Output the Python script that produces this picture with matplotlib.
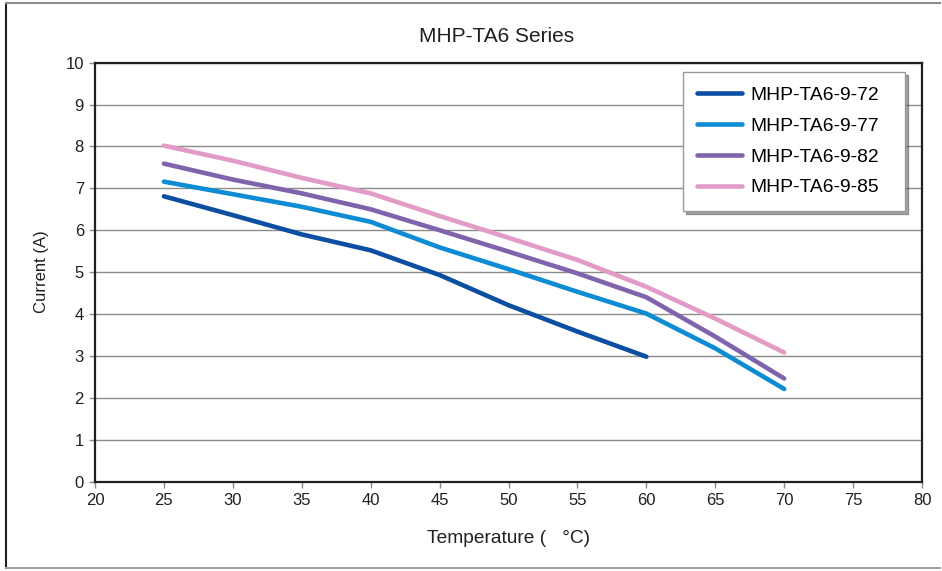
import matplotlib
matplotlib.use("Agg")
import matplotlib.pyplot as plt
from matplotlib.lines import Line2D

plt.rcParams["font.family"] = ["Liberation Sans", "DejaVu Sans"]

temps = [25, 30, 35, 40, 45, 50, 55, 60, 65, 70]
temps_72 = [25, 30, 35, 40, 45, 50, 55, 60]

current_72 = [6.81, 6.36, 5.90, 5.52, 4.93, 4.21, 3.58, 2.98]
current_77 = [7.16, 6.86, 6.56, 6.20, 5.59, 5.07, 4.53, 4.01, 3.18, 2.21]
current_82 = [7.59, 7.21, 6.88, 6.50, 6.00, 5.49, 4.97, 4.40, 3.46, 2.46]
current_85 = [8.02, 7.66, 7.25, 6.88, 6.34, 5.82, 5.29, 4.65, 3.89, 3.08]

series = [
    ("MHP-TA6-9-72", temps_72, current_72, "#0b4ea2"),
    ("MHP-TA6-9-77", temps, current_77, "#0d8bd3"),
    ("MHP-TA6-9-82", temps, current_82, "#8063ad"),
    ("MHP-TA6-9-85", temps, current_85, "#e29ac6"),
]

fig = plt.figure(figsize=(9.42, 5.71), dpi=100)
ax = fig.add_axes([95 / 942, 89.5 / 571, 827 / 942, 418.8 / 571])

for label, xs, ys, color in series:
    ax.plot(xs, ys, color=color, lw=3.3, label=label,
            solid_capstyle="round", solid_joinstyle="round", zorder=3)

ax.set_xlim(20, 80)
ax.set_ylim(0, 10)
ax.set_xticks(range(20, 81, 5))
ax.set_yticks(range(0, 11))
ax.grid(axis="y", color="#8c8c8c", lw=1.0)
ax.set_axisbelow(True)
for spine in ax.spines.values():
    spine.set_color("#231f20")
    spine.set_linewidth(1.6)
ax.tick_params(axis="both", direction="out", length=4, width=1,
               color="#8c8c8c", labelsize=12, labelcolor="#231f20", pad=4)

ax.set_title("MHP-TA6 Series", fontsize=15, color="#231f20", pad=15, x=0.486)
ax.set_xlabel("Temperature (   °C)", fontsize=13.8, color="#231f20", labelpad=16)
ax.set_ylabel("Current (A)", fontsize=12, color="#231f20", labelpad=12)

# legend box spans a fixed width; extra room falls on the right like the original
leg = ax.legend(loc="upper left", bbox_to_anchor=(0.711, 0.0, 0.2684, 0.978),
                mode="expand", borderaxespad=0, fontsize=13.9, handlelength=2.3,
                labelspacing=0.69, borderpad=0.75, handletextpad=0.45,
                fancybox=False, shadow=True, framealpha=1,
                edgecolor="#9a9a9a")
leg.get_frame().set_linewidth(1.0)

# outer chart frame
fig.add_artist(Line2D([6 / 942, 6 / 942], [3 / 571, 568 / 571], color="#231f20", lw=1.5))
fig.add_artist(Line2D([6 / 942, 940 / 942], [568 / 571, 568 / 571], color="#8c8c8c", lw=1.5))
fig.add_artist(Line2D([6 / 942, 940 / 942], [3 / 571, 3 / 571], color="#a0a0a0", lw=1.5))

fig.savefig("out.png", dpi=100)
